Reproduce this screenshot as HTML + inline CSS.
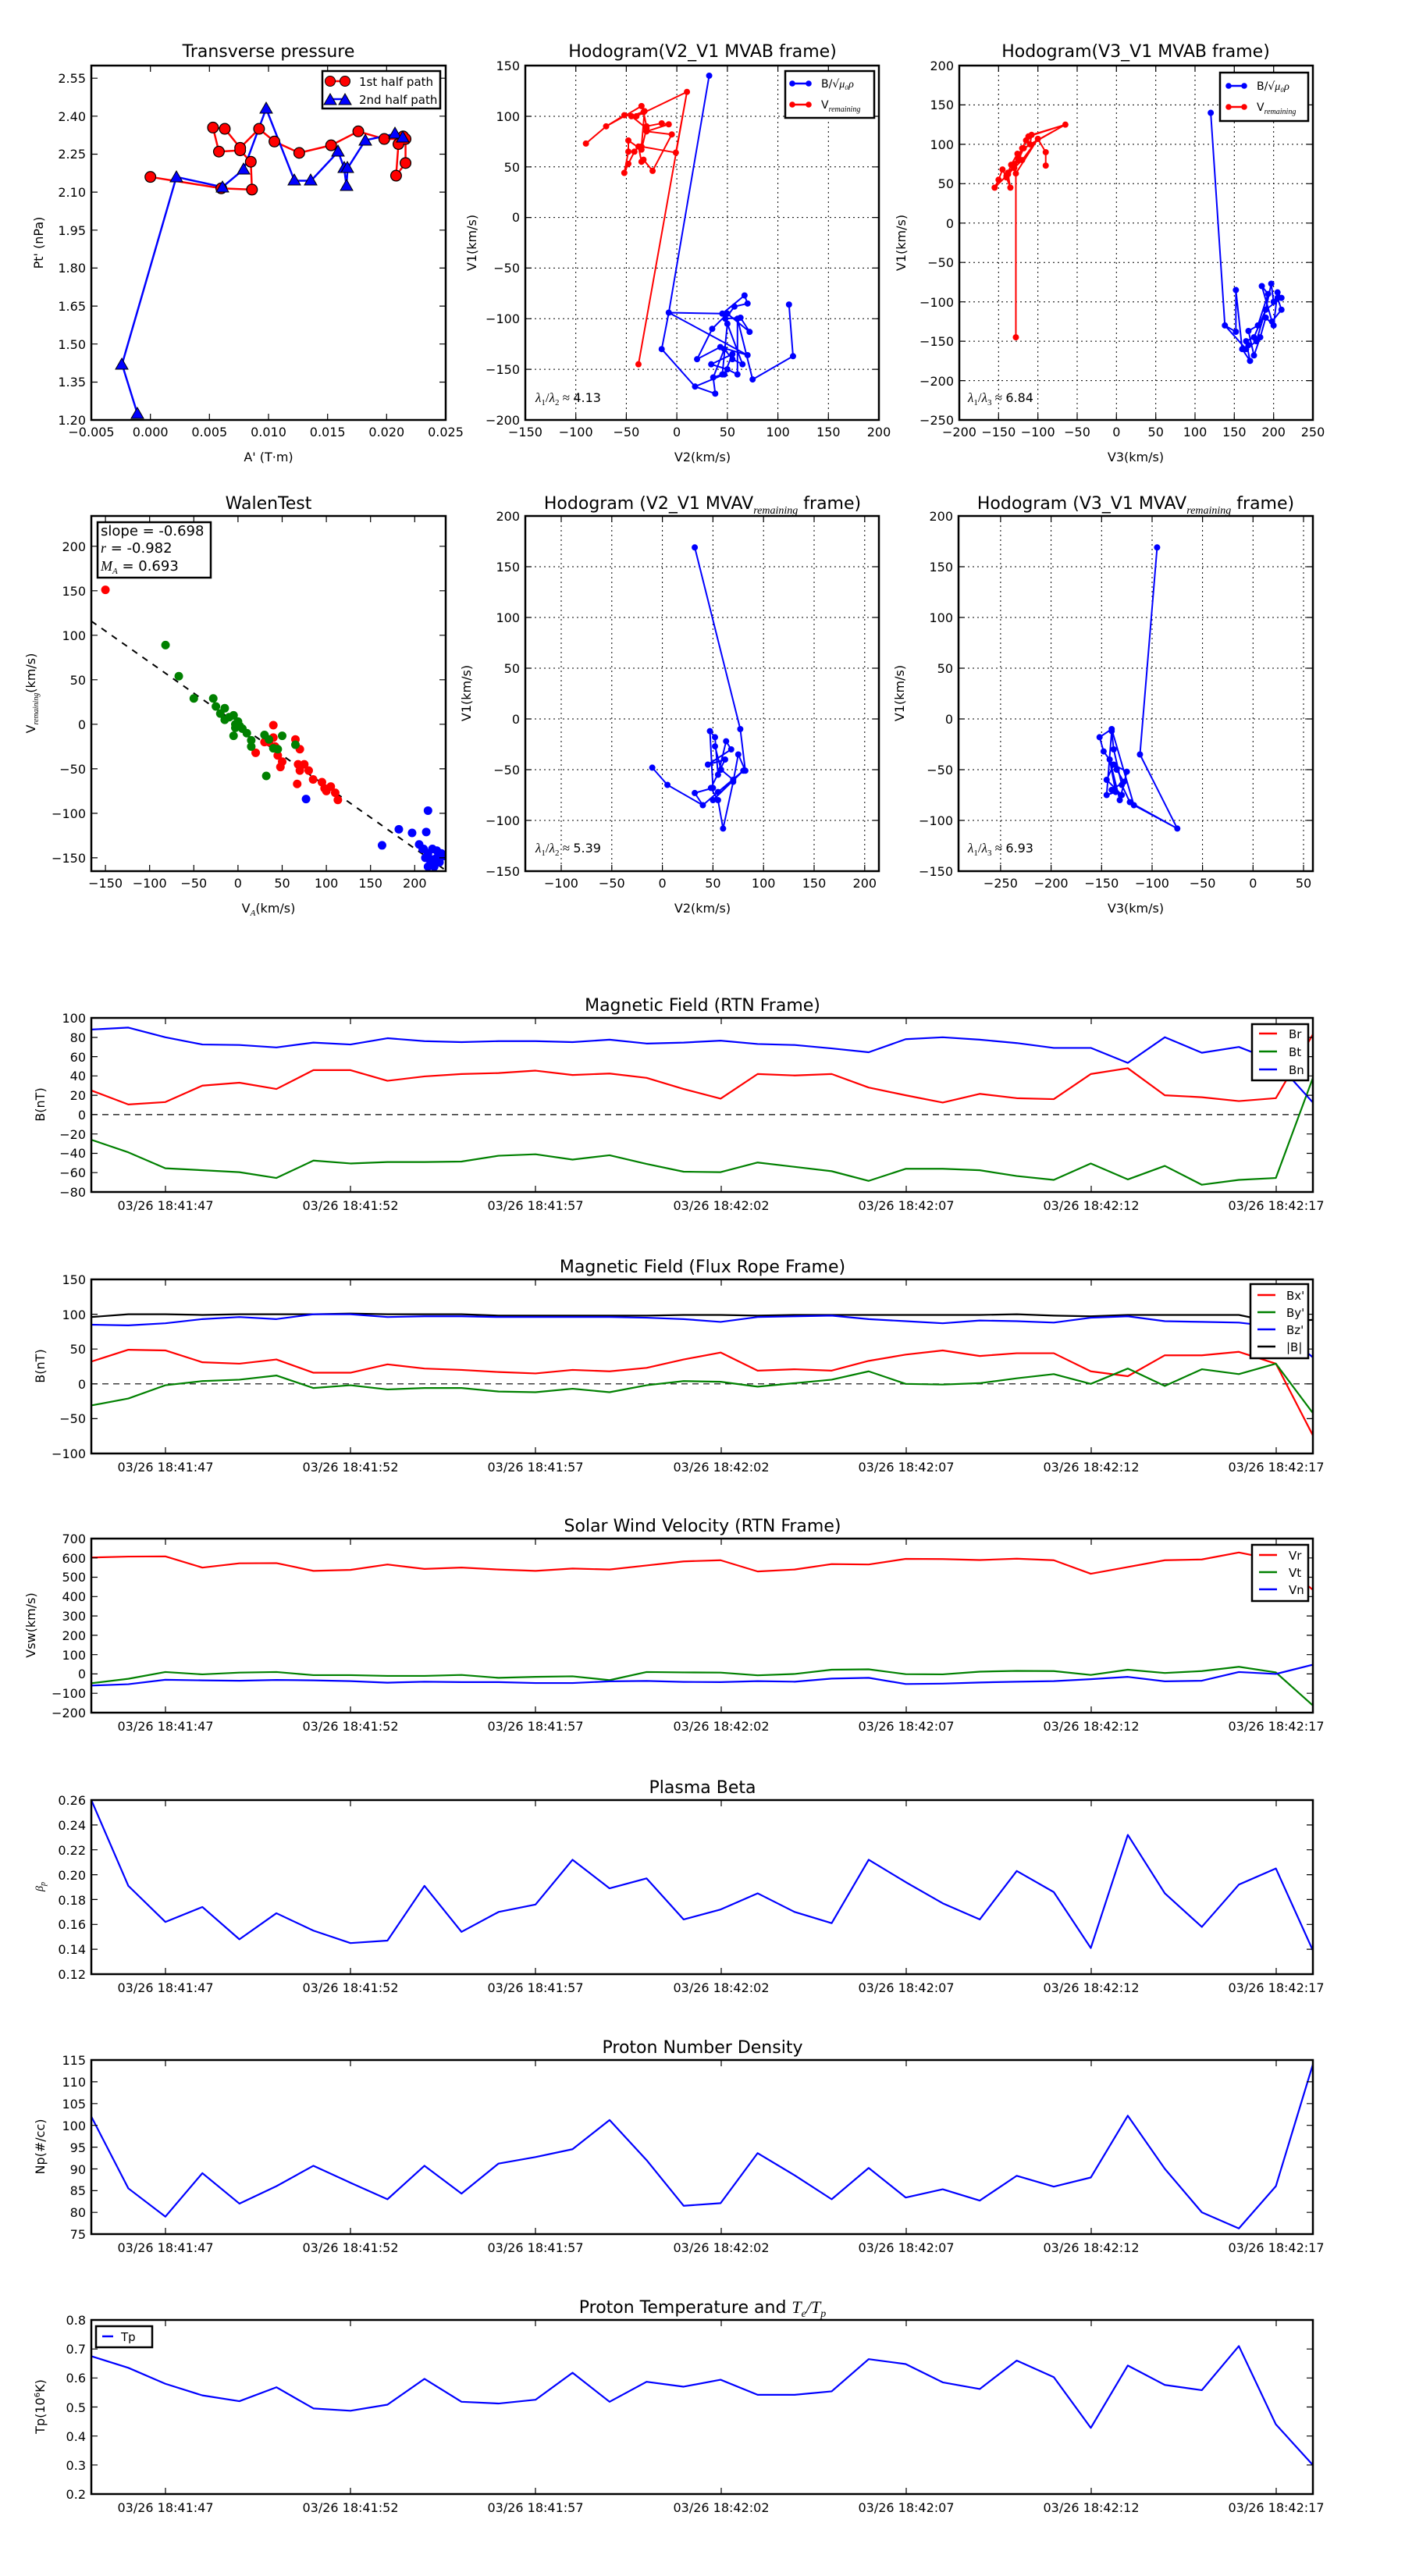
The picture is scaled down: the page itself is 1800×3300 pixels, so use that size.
<!DOCTYPE html>
<html><head><meta charset="utf-8"><style>
html,body{margin:0;padding:0;background:#fff;}
svg{display:block;font-family:"DejaVu Sans","Liberation Sans",sans-serif;}
.t{font-size:16px;}
.tt{font-size:22px;}
.ln{fill:none;vector-effect:non-scaling-stroke;stroke-linejoin:round;}
.fr{fill:none;stroke:#000;stroke-width:2.5;}
.tk{stroke:#000;stroke-width:1.2;fill:none;}
.gd{stroke:#000;stroke-width:1;stroke-dasharray:2,4;fill:none;}
.dot{fill:none;vector-effect:non-scaling-stroke;stroke-linecap:round;}
</style></head><body>
<svg width="1800" height="3300" viewBox="0 0 1800 3300" xmlns="http://www.w3.org/2000/svg">
<rect width="1800" height="3300" fill="#fff"/>
<defs>
<g id="tsx">
<rect x="117" y="0" width="1565" height="223" class="fr"/>
<path class="tk" d="M212 223v-8M449 223v-8M686 223v-8M924 223v-8M1161 223v-8M1398 223v-8M1635 223v-8M212 0v8M449 0v8M686 0v8M924 0v8M1161 0v8M1398 0v8M1635 0v8"/>
<g class="t" text-anchor="middle">
<text x="212" y="246">03/26 18:41:47</text><text x="449" y="246">03/26 18:41:52</text><text x="686" y="246">03/26 18:41:57</text><text x="924" y="246">03/26 18:42:02</text><text x="1161" y="246">03/26 18:42:07</text><text x="1398" y="246">03/26 18:42:12</text><text x="1635" y="246">03/26 18:42:17</text>
</g>
</g>
<path id="tri" d="M0,-8 L8,6 L-8,6 Z" fill="#0000ff" stroke="#000" stroke-width="1"/>
</defs>

<!-- ============ Plot 1: Transverse pressure ============ -->
<text class="tt" x="344" y="73" text-anchor="middle">Transverse pressure</text>
<g transform="matrix(15133.3 0 0 -324.29 192.67 927.14)">
<polyline class="ln" stroke="#ff0000" stroke-width="2.5" points="0,2.16 0.006,2.115 0.0086,2.11 0.0085,2.22 0.0076,2.265 0.0058,2.26 0.0053,2.355 0.0063,2.35 0.0076,2.275 0.0092,2.35 0.0105,2.30 0.0126,2.255 0.0153,2.285 0.0176,2.34 0.0198,2.31 0.0216,2.31 0.0216,2.215 0.0208,2.165 0.021,2.29 0.0214,2.32"/>
<polyline class="ln" stroke="#0000ff" stroke-width="2.5" points="-0.0011,1.225 -0.0024,1.42 0.0022,2.16 0.0061,2.12 0.0079,2.19 0.0098,2.43 0.0122,2.145 0.0136,2.145 0.0159,2.26 0.0164,2.195 0.0166,2.125 0.0167,2.195 0.0182,2.305 0.0207,2.33 0.0214,2.315"/>
<path class="dot" stroke="#000" stroke-width="15" d="M0 2.16h0M0.006 2.115h0M0.0086 2.11h0M0.0085 2.22h0M0.0076 2.265h0M0.0058 2.26h0M0.0053 2.355h0M0.0063 2.35h0M0.0076 2.275h0M0.0092 2.35h0M0.0105 2.30h0M0.0126 2.255h0M0.0153 2.285h0M0.0176 2.34h0M0.0198 2.31h0M0.0216 2.31h0M0.0216 2.215h0M0.0208 2.165h0M0.021 2.29h0M0.0214 2.32h0"/>
<path class="dot" stroke="#ff0000" stroke-width="12.5" d="M0 2.16h0M0.006 2.115h0M0.0086 2.11h0M0.0085 2.22h0M0.0076 2.265h0M0.0058 2.26h0M0.0053 2.355h0M0.0063 2.35h0M0.0076 2.275h0M0.0092 2.35h0M0.0105 2.30h0M0.0126 2.255h0M0.0153 2.285h0M0.0176 2.34h0M0.0198 2.31h0M0.0216 2.31h0M0.0216 2.215h0M0.0208 2.165h0M0.021 2.29h0M0.0214 2.32h0"/>
</g>
<use href="#tri" x="176" y="530"/><use href="#tri" x="156" y="467"/><use href="#tri" x="226" y="227"/><use href="#tri" x="285" y="240"/><use href="#tri" x="312" y="217"/><use href="#tri" x="341" y="139"/><use href="#tri" x="377" y="231"/><use href="#tri" x="398" y="231"/><use href="#tri" x="433" y="194"/><use href="#tri" x="441" y="215"/><use href="#tri" x="444" y="238"/><use href="#tri" x="445" y="215"/><use href="#tri" x="468" y="180"/><use href="#tri" x="506" y="171"/><use href="#tri" x="516" y="176"/>
<rect x="117" y="84" width="454" height="454" class="fr"/>
<path class="tk" d="M192.7 538v-8M268.3 538v-8M344 538v-8M419.7 538v-8M495.3 538v-8M192.7 84v8M268.3 84v8M344 84v8M419.7 84v8M495.3 84v8M117 100.2h8M117 148.8h8M117 197.5h8M117 246.1h8M117 294.8h8M117 343.4h8M117 392.1h8M117 440.7h8M117 489.5h8M571 100.2h-8M571 148.8h-8M571 197.5h-8M571 246.1h-8M571 294.8h-8M571 343.4h-8M571 392.1h-8M571 440.7h-8M571 489.5h-8"/>
<g class="t" text-anchor="end"><text x="110" y="106">2.55</text><text x="110" y="155">2.40</text><text x="110" y="203">2.25</text><text x="110" y="252">2.10</text><text x="110" y="301">1.95</text><text x="110" y="349">1.80</text><text x="110" y="398">1.65</text><text x="110" y="447">1.50</text><text x="110" y="495">1.35</text><text x="110" y="544">1.20</text></g>
<g class="t" text-anchor="middle"><text x="117" y="559">−0.005</text><text x="192.7" y="559">0.000</text><text x="268.3" y="559">0.005</text><text x="344" y="559">0.010</text><text x="419.7" y="559">0.015</text><text x="495.3" y="559">0.020</text><text x="571" y="559">0.025</text></g>
<text class="t" x="344" y="591" text-anchor="middle">A' (T·m)</text>
<text class="t" transform="translate(55,311) rotate(-90)" text-anchor="middle">Pt' (nPa)</text>
<rect x="413" y="91" width="151" height="48" fill="#fff" stroke="#000" stroke-width="2.5"/>
<line x1="423" y1="104" x2="442" y2="104" stroke="#ff0000" stroke-width="2.5"/>
<circle cx="423" cy="104" r="6.5" fill="#ff0000" stroke="#000"/><circle cx="442" cy="104" r="6.5" fill="#ff0000" stroke="#000"/>
<line x1="423" y1="127" x2="442" y2="127" stroke="#0000ff" stroke-width="2.5"/>
<use href="#tri" x="423" y="128"/><use href="#tri" x="442" y="128"/>
<text x="460" y="110" font-size="15">1st half path</text><text x="460" y="133" font-size="15">2nd half path</text>

<!-- ============ Plot 2: Hodogram V2_V1 MVAB ============ -->
<text class="tt" x="900" y="73" text-anchor="middle">Hodogram(V2_V1 MVAB frame)</text>
<path class="gd" d="M737.7 84V538M802.4 84V538M867.1 84V538M931.9 84V538M996.6 84V538M1061.3 84V538M673 149H1126M673 213.8H1126M673 278.6H1126M673 343.4H1126M673 408.3H1126M673 473.1H1126"/>
<g transform="matrix(1.2943 0 0 -1.2971 867.14 278.57)">
<polyline class="ln" stroke="#ff0000" stroke-width="2" points="-38,-145 10,124 -40,100 -52,101 -70,90 -90,73 -70,90 -52,100 -35,110 -33,104 -30,90 -15,93 -8,92 -30,85 -5,82 -24,46 -33,57 -35,55 -38,70 -42,65 -48,53 -52,44 -48,65 -48,76 -35,67 -30,88 -45,100 -32,105 -35,70 -1,64 10,124"/>
<polyline class="ln" stroke="#0000ff" stroke-width="2" points="32,140 -8,-94 45,-95 67,-77 70,-85 57,-88 48,-100 63,-99 72,-113 50,-95 35,-110 20,-140 43,-128 70,-136 -8,-94 -15,-130 18,-167 38,-174 18,-167 47,-155 55,-135 34,-145 50,-150 60,-155 60,-100 75,-160 115,-137 111,-86"/>
<polyline class="ln" stroke="#0000ff" stroke-width="2" points="36,-158 47,-130 55,-140 65,-145 50,-105 45,-155 36,-158 38,-174"/>
<path class="dot" stroke="#ff0000" stroke-width="8" d="M-38 -145h0M10 124h0M-40 100h0M-52 101h0M-70 90h0M-90 73h0M-35 110h0M-33 104h0M-30 90h0M-15 93h0M-8 92h0M-30 85h0M-5 82h0M-24 46h0M-33 57h0M-35 55h0M-38 70h0M-42 65h0M-48 53h0M-52 44h0M-48 65h0M-48 76h0M-35 67h0M-30 88h0M-45 100h0M-32 105h0M-35 70h0M-1 64h0"/>
<path class="dot" stroke="#0000ff" stroke-width="8" d="M32 140h0M-8 -94h0M45 -95h0M67 -77h0M70 -85h0M57 -88h0M48 -100h0M63 -99h0M72 -113h0M50 -95h0M35 -110h0M20 -140h0M43 -128h0M70 -136h0M-15 -130h0M18 -167h0M38 -174h0M47 -155h0M55 -135h0M34 -145h0M50 -150h0M60 -155h0M60 -100h0M75 -160h0M115 -137h0M111 -86h0M36 -158h0M47 -130h0M55 -140h0M65 -145h0M50 -105h0M45 -155h0"/>
</g>
<rect x="673" y="84" width="453" height="454" class="fr"/>
<path class="tk" d="M737.7 538v-8M802.4 538v-8M867.1 538v-8M931.9 538v-8M996.6 538v-8M1061.3 538v-8M737.7 84v8M802.4 84v8M867.1 84v8M931.9 84v8M996.6 84v8M1061.3 84v8M673 149h8M673 213.8h8M673 278.6h8M673 343.4h8M673 408.3h8M673 473.1h8M1126 149h-8M1126 213.8h-8M1126 278.6h-8M1126 343.4h-8M1126 408.3h-8M1126 473.1h-8"/>
<g class="t" text-anchor="end"><text x="666" y="90">150</text><text x="666" y="155">100</text><text x="666" y="220">50</text><text x="666" y="284">0</text><text x="666" y="349">−50</text><text x="666" y="414">−100</text><text x="666" y="479">−150</text><text x="666" y="544">−200</text></g>
<g class="t" text-anchor="middle"><text x="673" y="559">−150</text><text x="737.7" y="559">−100</text><text x="802.4" y="559">−50</text><text x="867.1" y="559">0</text><text x="931.9" y="559">50</text><text x="996.6" y="559">100</text><text x="1061.3" y="559">150</text><text x="1126" y="559">200</text></g>
<text class="t" x="900" y="591" text-anchor="middle">V2(km/s)</text>
<text class="t" transform="translate(610,311) rotate(-90)" text-anchor="middle">V1(km/s)</text>
<text x="686" y="515" font-size="17" font-family="Liberation Serif,serif"><tspan font-style="italic">λ</tspan><tspan font-size="11" dy="4">1</tspan><tspan dy="-4">/</tspan><tspan font-style="italic">λ</tspan><tspan font-size="11" dy="4">2</tspan><tspan dy="-4"> ≈ </tspan><tspan font-family="DejaVu Sans,sans-serif" font-size="16">4.13</tspan></text>
<rect x="1006" y="91" width="114" height="60" fill="#fff" stroke="#000" stroke-width="2.5"/>
<line x1="1015" y1="107" x2="1036" y2="107" stroke="#0000ff" stroke-width="2.5"/><circle cx="1015" cy="107" r="3.8" fill="#0000ff"/><circle cx="1036" cy="107" r="3.8" fill="#0000ff"/>
<line x1="1015" y1="134" x2="1036" y2="134" stroke="#ff0000" stroke-width="2.5"/><circle cx="1015" cy="134" r="3.8" fill="#ff0000"/><circle cx="1036" cy="134" r="3.8" fill="#ff0000"/>
<text x="1052" y="112" font-size="14">B/√<tspan font-style="italic" font-family="Liberation Serif,serif">μ₀ρ</tspan></text>
<text x="1052" y="139" font-size="14">V<tspan font-size="10" dy="4" font-style="italic" font-family="Liberation Serif,serif">remaining</tspan></text>

<!-- ============ Plot 3: Hodogram V3_V1 MVAB ============ -->
<text class="tt" x="1455" y="73" text-anchor="middle">Hodogram(V3_V1 MVAB frame)</text>
<path class="gd" d="M1279.3 84V538M1329.7 84V538M1380 84V538M1430.3 84V538M1480.7 84V538M1531 84V538M1581.3 84V538M1631.7 84V538M1229 134.4H1682M1229 184.9H1682M1229 235.3H1682M1229 285.8H1682M1229 336.2H1682M1229 386.7H1682M1229 437.1H1682M1229 487.6H1682"/>
<g transform="matrix(1.00667 0 0 -1.00889 1430.33 285.78)">
<polyline class="ln" stroke="#ff0000" stroke-width="2" points="-128,-145 -128,63 -100,107 -90,90 -90,73 -90,90 -100,107 -120,80 -140,60 -155,45 -150,55 -145,68 -140,58 -135,45 -138,62 -130,75 -125,85 -120,95 -115,105 -112,110 -65,125 -118,95 -125,80 -130,70 -138,64 -134,74 -126,88 -110,100 -108,112 -65,125 -110,100"/>
<polyline class="ln" stroke="#0000ff" stroke-width="2" points="120,140 138,-130 152,-138 152,-85 160,-160 170,-175 165,-150 175,-145 190,-110 197,-77 200,-100 205,-95 210,-110 198,-125 185,-80 193,-90 180,-130 168,-137 175,-168 183,-145 190,-120 200,-130 205,-88 210,-95 190,-110 178,-150 165,-160 138,-130"/>
<path class="dot" stroke="#ff0000" stroke-width="8" d="M-128 -145h0M-128 63h0M-100 107h0M-90 90h0M-90 73h0M-120 80h0M-140 60h0M-155 45h0M-150 55h0M-145 68h0M-140 58h0M-135 45h0M-138 62h0M-130 75h0M-125 85h0M-120 95h0M-115 105h0M-112 110h0M-65 125h0M-118 95h0M-125 80h0M-130 70h0M-138 64h0M-134 74h0M-126 88h0M-110 100h0M-108 112h0"/>
<path class="dot" stroke="#0000ff" stroke-width="8" d="M120 140h0M138 -130h0M152 -138h0M152 -85h0M160 -160h0M170 -175h0M165 -150h0M175 -145h0M190 -110h0M197 -77h0M200 -100h0M205 -95h0M210 -110h0M198 -125h0M185 -80h0M193 -90h0M180 -130h0M168 -137h0M175 -168h0M183 -145h0M190 -120h0M200 -130h0M205 -88h0M210 -95h0M178 -150h0M165 -160h0M168 -155h0"/>
</g>
<rect x="1229" y="84" width="453" height="454" class="fr"/>
<path class="tk" d="M1279.3 538v-8M1329.7 538v-8M1380 538v-8M1430.3 538v-8M1480.7 538v-8M1531 538v-8M1581.3 538v-8M1631.7 538v-8M1279.3 84v8M1329.7 84v8M1380 84v8M1430.3 84v8M1480.7 84v8M1531 84v8M1581.3 84v8M1631.7 84v8M1229 134.4h8M1229 184.9h8M1229 235.3h8M1229 285.8h8M1229 336.2h8M1229 386.7h8M1229 437.1h8M1229 487.6h8M1682 134.4h-8M1682 184.9h-8M1682 235.3h-8M1682 285.8h-8M1682 336.2h-8M1682 386.7h-8M1682 437.1h-8M1682 487.6h-8"/>
<g class="t" text-anchor="end"><text x="1222" y="90">200</text><text x="1222" y="140">150</text><text x="1222" y="191">100</text><text x="1222" y="241">50</text><text x="1222" y="292">0</text><text x="1222" y="342">−50</text><text x="1222" y="393">−100</text><text x="1222" y="443">−150</text><text x="1222" y="494">−200</text><text x="1222" y="544">−250</text></g>
<g class="t" text-anchor="middle"><text x="1229" y="559">−200</text><text x="1279.3" y="559">−150</text><text x="1329.7" y="559">−100</text><text x="1380" y="559">−50</text><text x="1430.3" y="559">0</text><text x="1480.7" y="559">50</text><text x="1531" y="559">100</text><text x="1581.3" y="559">150</text><text x="1631.7" y="559">200</text><text x="1682" y="559">250</text></g>
<text class="t" x="1455" y="591" text-anchor="middle">V3(km/s)</text>
<text class="t" transform="translate(1160,311) rotate(-90)" text-anchor="middle">V1(km/s)</text>
<text x="1240" y="515" font-size="17" font-family="Liberation Serif,serif"><tspan font-style="italic">λ</tspan><tspan font-size="11" dy="4">1</tspan><tspan dy="-4">/</tspan><tspan font-style="italic">λ</tspan><tspan font-size="11" dy="4">3</tspan><tspan dy="-4"> ≈ </tspan><tspan font-family="DejaVu Sans,sans-serif" font-size="16">6.84</tspan></text>
<rect x="1563" y="93" width="113" height="62" fill="#fff" stroke="#000" stroke-width="2.5"/>
<line x1="1574" y1="110" x2="1594" y2="110" stroke="#0000ff" stroke-width="2.5"/><circle cx="1574" cy="110" r="3.8" fill="#0000ff"/><circle cx="1594" cy="110" r="3.8" fill="#0000ff"/>
<line x1="1574" y1="137" x2="1594" y2="137" stroke="#ff0000" stroke-width="2.5"/><circle cx="1574" cy="137" r="3.8" fill="#ff0000"/><circle cx="1594" cy="137" r="3.8" fill="#ff0000"/>
<text x="1610" y="115" font-size="14">B/√<tspan font-style="italic" font-family="Liberation Serif,serif">μ₀ρ</tspan></text>
<text x="1610" y="142" font-size="14">V<tspan font-size="10" dy="4" font-style="italic" font-family="Liberation Serif,serif">remaining</tspan></text>

<!-- ============ Plot 4: Walen ============ -->
<text class="tt" x="344" y="652" text-anchor="middle">WalenTest</text>
<g transform="matrix(1.1322 0 0 -1.1404 304.9 927.83)">
<line class="ln" x1="-166" y1="115.9" x2="235" y2="-164" stroke="#000" stroke-width="2" stroke-dasharray="8,8"/>
<path class="dot" stroke="#ff0000" stroke-width="11" d="M-150 151h0M40 -1h0M35 -20h0M40 -15h0M20 -32h0M45 -35h0M48 -48h0M50 -42h0M65 -17h0M70 -28h0M68 -45h0M70 -52h0M75 -45h0M80 -52h0M67 -67h0M85 -62h0M95 -65h0M98 -72h0M100 -75h0M105 -70h0M110 -77h0M113 -85h0M30 -20h0M42 -25h0"/>
<path class="dot" stroke="#008000" stroke-width="11" d="M-82 89h0M-67 54h0M-50 29h0M-28 29h0M-25 20h0M-15 18h0M-15 5h0M-10 8h0M-5 10h0M-3 0h0M0 3h0M5 -5h0M10 -10h0M15 -18h0M30 -12h0M35 -17h0M45 -28h0M50 -13h0M65 -23h0M32 -58h0M15 -25h0M-5 -13h0M-3 -4h0M-20 12h0M2 -2h0M40 -27h0"/>
<path class="dot" stroke="#0000ff" stroke-width="11" d="M77 -84h0M163 -136h0M182 -118h0M197 -122h0M213 -121h0M215 -97h0M205 -135h0M210 -140h0M212 -150h0M215 -145h0M220 -140h0M225 -150h0M230 -145h0M218 -155h0M222 -160h0M228 -155h0M233 -148h0M215 -160h0M209 -140h0M225 -142h0M220 -152h0"/>
</g>
<rect x="571" y="640" width="40" height="500" fill="#fff"/>
<rect x="117" y="661" width="454" height="455" class="fr"/>
<path class="tk" d="M135.1 1116v-8M191.7 1116v-8M248.3 1116v-8M304.9 1116v-8M361.5 1116v-8M418.1 1116v-8M474.7 1116v-8M531.3 1116v-8M135.1 661v8M191.7 661v8M248.3 661v8M304.9 661v8M361.5 661v8M418.1 661v8M474.7 661v8M531.3 661v8M117 699.8h8M117 756.8h8M117 813.8h8M117 870.8h8M117 927.8h8M117 984.9h8M117 1041.9h8M117 1098.9h8M571 699.8h-8M571 756.8h-8M571 813.8h-8M571 870.8h-8M571 927.8h-8M571 984.9h-8M571 1041.9h-8M571 1098.9h-8"/>
<g class="t" text-anchor="end"><text x="110" y="706">200</text><text x="110" y="763">150</text><text x="110" y="820">100</text><text x="110" y="877">50</text><text x="110" y="934">0</text><text x="110" y="991">−50</text><text x="110" y="1048">−100</text><text x="110" y="1105">−150</text></g>
<g class="t" text-anchor="middle"><text x="135.1" y="1137">−150</text><text x="191.7" y="1137">−100</text><text x="248.3" y="1137">−50</text><text x="304.9" y="1137">0</text><text x="361.5" y="1137">50</text><text x="418.1" y="1137">100</text><text x="474.7" y="1137">150</text><text x="531.3" y="1137">200</text></g>
<text class="t" x="344" y="1169" text-anchor="middle">V<tspan font-size="11" dy="4" font-style="italic" font-family="Liberation Serif,serif">A</tspan><tspan dy="-4">(km/s)</tspan></text>
<text class="t" transform="translate(45,888) rotate(-90)" text-anchor="middle">V<tspan font-size="10" dy="4" font-style="italic" font-family="Liberation Serif,serif">remaining</tspan><tspan dy="-4">(km/s)</tspan></text>
<rect x="125" y="669" width="145" height="71" fill="#fff" stroke="#000" stroke-width="2.5"/>
<text x="129" y="686" font-size="18">slope = -0.698</text>
<text x="129" y="708" font-size="18"><tspan font-style="italic" font-family="Liberation Serif,serif">r</tspan> = -0.982</text>
<text x="129" y="731" font-size="18"><tspan font-style="italic" font-family="Liberation Serif,serif">M</tspan><tspan font-size="11" dy="4" font-style="italic" font-family="Liberation Serif,serif">A</tspan><tspan dy="-4"> = 0.693</tspan></text>

<!-- ============ Plot 5 ============ -->
<text class="tt" x="900" y="652" text-anchor="middle">Hodogram (V2_V1 MVAV<tspan font-size="14" dy="6" font-style="italic" font-family="Liberation Serif,serif">remaining</tspan><tspan dy="-6"> frame)</tspan></text>
<path class="gd" d="M719 661V1116M783.8 661V1116M848.6 661V1116M913.4 661V1116M978.2 661V1116M1043 661V1116M1107.8 661V1116M673 726H1126M673 791H1126M673 856H1126M673 921H1126M673 986H1126M673 1051H1126"/>
<g transform="matrix(1.2961 0 0 -1.3 848.6 921)">
<polyline class="ln" stroke="#0000ff" stroke-width="2" points="32,169 77,-10 82,-51 75,-35 70,-62 60,-108 55,-80 48,-68 62,-40 45,-45 68,-30 63,-22 55,-55 52,-18 47,-12 50,-68 32,-73 40,-85 5,-65 -10,-48 5,-65 40,-85 55,-72 80,-51 50,-80 70,-60 58,-50 52,-27"/>
<path class="dot" stroke="#0000ff" stroke-width="8" d="M32 169h0M77 -10h0M82 -51h0M75 -35h0M70 -62h0M60 -108h0M55 -80h0M48 -68h0M62 -40h0M45 -45h0M68 -30h0M63 -22h0M55 -55h0M52 -18h0M47 -12h0M50 -68h0M32 -73h0M40 -85h0M5 -65h0M-10 -48h0M55 -72h0M80 -51h0M50 -80h0M70 -60h0M58 -50h0M52 -27h0"/>
</g>
<rect x="673" y="661" width="453" height="455" class="fr"/>
<path class="tk" d="M719 1116v-8M783.8 1116v-8M848.6 1116v-8M913.4 1116v-8M978.2 1116v-8M1043 1116v-8M1107.8 1116v-8M719 661v8M783.8 661v8M848.6 661v8M913.4 661v8M978.2 661v8M1043 661v8M1107.8 661v8M673 726h8M673 791h8M673 856h8M673 921h8M673 986h8M673 1051h8M1126 726h-8M1126 791h-8M1126 856h-8M1126 921h-8M1126 986h-8M1126 1051h-8"/>
<g class="t" text-anchor="end"><text x="666" y="667">200</text><text x="666" y="732">150</text><text x="666" y="797">100</text><text x="666" y="862">50</text><text x="666" y="927">0</text><text x="666" y="992">−50</text><text x="666" y="1057">−100</text><text x="666" y="1122">−150</text></g>
<g class="t" text-anchor="middle"><text x="719" y="1137">−100</text><text x="783.8" y="1137">−50</text><text x="848.6" y="1137">0</text><text x="913.4" y="1137">50</text><text x="978.2" y="1137">100</text><text x="1043" y="1137">150</text><text x="1107.8" y="1137">200</text></g>
<text class="t" x="900" y="1169" text-anchor="middle">V2(km/s)</text>
<text class="t" transform="translate(603,888) rotate(-90)" text-anchor="middle">V1(km/s)</text>
<text x="686" y="1092" font-size="17" font-family="Liberation Serif,serif"><tspan font-style="italic">λ</tspan><tspan font-size="11" dy="4">1</tspan><tspan dy="-4">/</tspan><tspan font-style="italic">λ</tspan><tspan font-size="11" dy="4">2</tspan><tspan dy="-4"> ≈ </tspan><tspan font-family="DejaVu Sans,sans-serif" font-size="16">5.39</tspan></text>

<!-- ============ Plot 6 ============ -->
<text class="tt" x="1455" y="652" text-anchor="middle">Hodogram (V3_V1 MVAV<tspan font-size="14" dy="6" font-style="italic" font-family="Liberation Serif,serif">remaining</tspan><tspan dy="-6"> frame)</tspan></text>
<path class="gd" d="M1281.9 661V1116M1346.6 661V1116M1411.3 661V1116M1476 661V1116M1540.6 661V1116M1605.3 661V1116M1670 661V1116M1228 726H1682M1228 791H1682M1228 856H1682M1228 921H1682M1228 986H1682M1228 1051H1682"/>
<g transform="matrix(1.2934 0 0 -1.3 1605.3 921)">
<polyline class="ln" stroke="#0000ff" stroke-width="2" points="-95,169 -112,-35 -75,-108 -118,-85 -140,-10 -152,-18 -148,-32 -135,-50 -128,-62 -140,-70 -130,-75 -145,-60 -138,-45 -125,-52 -132,-80 -142,-40 -136,-72 -145,-75 -140,-12 -138,-30 -130,-65 -122,-82 -75,-108"/>
<path class="dot" stroke="#0000ff" stroke-width="8" d="M-95 169h0M-112 -35h0M-75 -108h0M-118 -85h0M-140 -10h0M-152 -18h0M-148 -32h0M-135 -50h0M-128 -62h0M-140 -70h0M-130 -75h0M-145 -60h0M-138 -45h0M-125 -52h0M-132 -80h0M-142 -40h0M-136 -72h0M-145 -75h0M-140 -12h0M-138 -30h0M-130 -65h0M-122 -82h0"/>
</g>
<rect x="1228" y="661" width="454" height="455" class="fr"/>
<path class="tk" d="M1281.9 1116v-8M1346.6 1116v-8M1411.3 1116v-8M1476 1116v-8M1540.6 1116v-8M1605.3 1116v-8M1670 1116v-8M1281.9 661v8M1346.6 661v8M1411.3 661v8M1476 661v8M1540.6 661v8M1605.3 661v8M1670 661v8M1228 726h8M1228 791h8M1228 856h8M1228 921h8M1228 986h8M1228 1051h8M1682 726h-8M1682 791h-8M1682 856h-8M1682 921h-8M1682 986h-8M1682 1051h-8"/>
<g class="t" text-anchor="end"><text x="1221" y="667">200</text><text x="1221" y="732">150</text><text x="1221" y="797">100</text><text x="1221" y="862">50</text><text x="1221" y="927">0</text><text x="1221" y="992">−50</text><text x="1221" y="1057">−100</text><text x="1221" y="1122">−150</text></g>
<g class="t" text-anchor="middle"><text x="1281.9" y="1137">−250</text><text x="1346.6" y="1137">−200</text><text x="1411.3" y="1137">−150</text><text x="1476" y="1137">−100</text><text x="1540.6" y="1137">−50</text><text x="1605.3" y="1137">0</text><text x="1670" y="1137">50</text></g>
<text class="t" x="1455" y="1169" text-anchor="middle">V3(km/s)</text>
<text class="t" transform="translate(1158,888) rotate(-90)" text-anchor="middle">V1(km/s)</text>
<text x="1240" y="1092" font-size="17" font-family="Liberation Serif,serif"><tspan font-style="italic">λ</tspan><tspan font-size="11" dy="4">1</tspan><tspan dy="-4">/</tspan><tspan font-style="italic">λ</tspan><tspan font-size="11" dy="4">3</tspan><tspan dy="-4"> ≈ </tspan><tspan font-family="DejaVu Sans,sans-serif" font-size="16">6.93</tspan></text>

<!-- ============ Time series ============ -->
<text class="tt" x="900" y="1295" text-anchor="middle">Magnetic Field (RTN Frame)</text>
<line x1="117" y1="1427.9" x2="1682" y2="1427.9" stroke="#000" stroke-width="1.2" stroke-dasharray="8,6"/>
<g transform="matrix(47.424 0 0 -1.2389 117 1427.9)">
<polyline class="ln" stroke="#ff0000" stroke-width="2.2" points="0,25 1,10.5 2,13 3,30 4,33 5,26.5 6,46 7,46 8,35 9,39.5 10,42 11,43 12,45.5 13,41 14,42.5 15,38 16,26.5 17,16.5 18,42 19,40.5 20,42 21,28 22,20 23,12.5 24,21.5 25,17 26,16 27,42 28,48 29,20 30,18 31,14 32,17 33,83"/>
<polyline class="ln" stroke="#008000" stroke-width="2.2" points="0,-26 1,-39 2,-55.5 3,-57.5 4,-59.5 5,-65.5 6,-47.5 7,-50.5 8,-49 9,-49 10,-48.5 11,-42.5 12,-41 13,-46.5 14,-42 15,-51 16,-59 17,-59.5 18,-49.5 19,-54 20,-58.5 21,-68.5 22,-56 23,-56 24,-57.5 25,-63.5 26,-67.5 27,-50.5 28,-67 29,-53 30,-72.5 31,-67.5 32,-65.5 33,38"/>
<polyline class="ln" stroke="#0000ff" stroke-width="2.2" points="0,88 1,90 2,80 3,72.5 4,72 5,69.5 6,74.5 7,72.5 8,79 9,76 10,75 11,76 12,76 13,75 14,77.5 15,73.5 16,74.5 17,76.5 18,73 19,72 20,68.5 21,64.5 22,78 23,80 24,77.5 25,74 26,69 27,69 28,53.5 29,80 30,64 31,70 32,55 33,12.5"/>
</g>
<use href="#tsx" y="1304"/>
<path class="tk" d="M117 1329h8M117 1353.6h8M117 1378.3h8M117 1403.1h8M117 1427.9h8M117 1452.7h8M117 1477.5h8M117 1502.2h8M1682 1329h-8M1682 1353.6h-8M1682 1378.3h-8M1682 1403.1h-8M1682 1427.9h-8M1682 1452.7h-8M1682 1477.5h-8M1682 1502.2h-8"/>
<g class="t" text-anchor="end"><text x="110" y="1310">100</text><text x="110" y="1335">80</text><text x="110" y="1360">60</text><text x="110" y="1384">40</text><text x="110" y="1409">20</text><text x="110" y="1434">0</text><text x="110" y="1459">−20</text><text x="110" y="1483">−40</text><text x="110" y="1508">−60</text><text x="110" y="1533">−80</text></g>
<text class="t" transform="translate(57,1415) rotate(-90)" text-anchor="middle">B(nT)</text>
<rect x="1604" y="1312" width="72" height="72" fill="#fff" stroke="#000" stroke-width="2.5"/>
<path d="M1613 1324h23" stroke="#ff0000" stroke-width="2.5"/><path d="M1613 1347h23" stroke="#008000" stroke-width="2.5"/><path d="M1613 1370h23" stroke="#0000ff" stroke-width="2.5"/>
<g font-size="15"><text x="1651" y="1330">Br</text><text x="1651" y="1353">Bt</text><text x="1651" y="1376">Bn</text></g>

<text class="tt" x="900" y="1630" text-anchor="middle">Magnetic Field (Flux Rope Frame)</text>
<line x1="117" y1="1772.8" x2="1682" y2="1772.8" stroke="#000" stroke-width="1.2" stroke-dasharray="8,6"/>
<g transform="matrix(47.424 0 0 -0.892 117 1772.8)">
<polyline class="ln" stroke="#000" stroke-width="2.2" points="0,96 1,100 2,100 3,99 4,100 5,100 6,100 7,101 8,100 9,100 10,100 11,98 12,98 13,98 14,98 15,98 16,99 17,99 18,98 19,99 20,99 21,99 22,99 23,99 24,99 25,100 26,98 27,97 28,99 29,99 30,99 31,99 32,88 33,92"/>
<polyline class="ln" stroke="#0000ff" stroke-width="2.2" points="0,85 1,84 2,87 3,93 4,96 5,93 6,100 7,100 8,96 9,97 10,97 11,96 12,96 13,96 14,96 15,95 16,93 17,89 18,96 19,97 20,98 21,93 22,90 23,87 24,91 25,90 26,88 27,95 28,97 29,90 30,89 31,88 32,82 33,38"/>
<polyline class="ln" stroke="#ff0000" stroke-width="2.2" points="0,32 1,49 2,48 3,31 4,29 5,35 6,16 7,16 8,28 9,22 10,20 11,17 12,15 13,20 14,18 15,23 16,35 17,45 18,19 19,21 20,19 21,33 22,42 23,48 24,40 25,44 26,44 27,18 28,11 29,41 30,41 31,46 32,29 33,-74"/>
<polyline class="ln" stroke="#008000" stroke-width="2.2" points="0,-31 1,-21 2,-2 3,4 4,6 5,12 6,-6 7,-2 8,-8 9,-6 10,-6 11,-11 12,-12 13,-7 14,-12 15,-2 16,4 17,3 18,-4 19,1 20,6 21,18 22,0 23,-1 24,1 25,8 26,14 27,0 28,22 29,-3 30,21 31,14 32,29 33,-42"/>
</g>
<use href="#tsx" y="1639"/>
<path class="tk" d="M117 1683.6h8M117 1728.2h8M117 1772.8h8M117 1817.4h8M1682 1683.6h-8M1682 1728.2h-8M1682 1772.8h-8M1682 1817.4h-8"/>
<g class="t" text-anchor="end"><text x="110" y="1645">150</text><text x="110" y="1690">100</text><text x="110" y="1734">50</text><text x="110" y="1779">0</text><text x="110" y="1823">−50</text><text x="110" y="1868">−100</text></g>
<text class="t" transform="translate(57,1750) rotate(-90)" text-anchor="middle">B(nT)</text>
<rect x="1602" y="1645" width="74" height="95" fill="#fff" stroke="#000" stroke-width="2.5"/>
<path d="M1611 1659h23" stroke="#ff0000" stroke-width="2.5"/><path d="M1611 1681h23" stroke="#008000" stroke-width="2.5"/><path d="M1611 1703h23" stroke="#0000ff" stroke-width="2.5"/><path d="M1611 1725h23" stroke="#000" stroke-width="2.5"/>
<g font-size="15"><text x="1648" y="1665">Bx'</text><text x="1648" y="1687">By'</text><text x="1648" y="1709">Bz'</text><text x="1648" y="1731">|B|</text></g>

<text class="tt" x="900" y="1962" text-anchor="middle">Solar Wind Velocity (RTN Frame)</text>
<g transform="matrix(47.424 0 0 -0.24778 117 2144.44)">
<polyline class="ln" stroke="#ff0000" stroke-width="2.2" points="0,602 1,607 2,608 3,550 4,572 5,573 6,533 7,538 8,566 9,543 10,550 11,540 12,533 13,545 14,540 15,561 16,582 17,588 18,530 19,540 20,568 21,566 22,595 23,594 24,589 25,596 26,588 27,518 28,553 29,588 30,592 31,628 32,590 33,435"/>
<polyline class="ln" stroke="#008000" stroke-width="2.2" points="0,-48 1,-25 2,10 3,-2 4,7 5,10 6,-6 7,-6 8,-10 9,-10 10,-5 11,-20 12,-15 13,-12 14,-32 15,10 16,8 17,7 18,-7 19,0 20,22 21,24 22,-1 23,-2 24,12 25,16 26,15 27,-5 28,22 29,5 30,15 31,37 32,8 33,-163"/>
<polyline class="ln" stroke="#0000ff" stroke-width="2.2" points="0,-60 1,-53 2,-30 3,-33 4,-35 5,-31 6,-33 7,-37 8,-45 9,-40 10,-42 11,-42 12,-47 13,-47 14,-38 15,-36 16,-41 17,-42 18,-37 19,-40 20,-24 21,-20 22,-52 23,-50 24,-44 25,-40 26,-37 27,-27 28,-15 29,-38 30,-35 31,10 32,0 33,48"/>
</g>
<use href="#tsx" y="1971"/>
<path class="tk" d="M117 1995.8h8M117 2020.5h8M117 2045.3h8M117 2070.1h8M117 2094.9h8M117 2119.7h8M117 2144.4h8M117 2169.2h8M1682 1995.8h-8M1682 2020.5h-8M1682 2045.3h-8M1682 2070.1h-8M1682 2094.9h-8M1682 2119.7h-8M1682 2144.4h-8M1682 2169.2h-8"/>
<g class="t" text-anchor="end"><text x="110" y="1977">700</text><text x="110" y="2002">600</text><text x="110" y="2026">500</text><text x="110" y="2051">400</text><text x="110" y="2076">300</text><text x="110" y="2101">200</text><text x="110" y="2126">100</text><text x="110" y="2150">0</text><text x="110" y="2175">−100</text><text x="110" y="2200">−200</text></g>
<text class="t" transform="translate(45,2082) rotate(-90)" text-anchor="middle">Vsw(km/s)</text>
<rect x="1604" y="1979" width="72" height="72" fill="#fff" stroke="#000" stroke-width="2.5"/>
<path d="M1613 1992h23" stroke="#ff0000" stroke-width="2.5"/><path d="M1613 2014h23" stroke="#008000" stroke-width="2.5"/><path d="M1613 2036h23" stroke="#0000ff" stroke-width="2.5"/>
<g font-size="15"><text x="1651" y="1998">Vr</text><text x="1651" y="2020">Vt</text><text x="1651" y="2042">Vn</text></g>

<text class="tt" x="900" y="2297" text-anchor="middle">Plasma Beta</text>
<g transform="matrix(47.424 0 0 -1592.9 117 2720.14)">
<polyline class="ln" stroke="#0000ff" stroke-width="2.2" points="0,0.26 1,0.191 2,0.162 3,0.174 4,0.148 5,0.169 6,0.155 7,0.145 8,0.147 9,0.191 10,0.154 11,0.170 12,0.176 13,0.212 14,0.189 15,0.197 16,0.164 17,0.172 18,0.185 19,0.170 20,0.161 21,0.212 22,0.194 23,0.177 24,0.164 25,0.203 26,0.186 27,0.141 28,0.232 29,0.185 30,0.158 31,0.192 32,0.205 33,0.139"/>
</g>
<use href="#tsx" y="2306"/>
<path class="tk" d="M117 2337.9h8M117 2369.7h8M117 2401.6h8M117 2433.4h8M117 2465.3h8M117 2497.1h8M1682 2337.9h-8M1682 2369.7h-8M1682 2401.6h-8M1682 2433.4h-8M1682 2465.3h-8M1682 2497.1h-8"/>
<g class="t" text-anchor="end"><text x="110" y="2312">0.26</text><text x="110" y="2344">0.24</text><text x="110" y="2376">0.22</text><text x="110" y="2408">0.20</text><text x="110" y="2440">0.18</text><text x="110" y="2471">0.16</text><text x="110" y="2503">0.14</text><text x="110" y="2535">0.12</text></g>
<text transform="translate(55,2417) rotate(-90)" text-anchor="middle" font-size="14" font-style="italic" font-family="Liberation Serif,serif">β<tspan font-size="10" dy="3">p</tspan></text>

<text class="tt" x="900" y="2630" text-anchor="middle">Proton Number Density</text>
<g transform="matrix(47.424 0 0 -5.575 117 3280.1)">
<polyline class="ln" stroke="#0000ff" stroke-width="2.2" points="0,102 1,85.5 2,79 3,89 4,82 5,86 6,90.7 7,86.8 8,83 9,90.7 10,84.3 11,91.2 12,92.7 13,94.5 14,101.2 15,92 16,81.5 17,82.1 18,93.6 19,88.5 20,83 21,90.2 22,83.4 23,85.3 24,82.7 25,88.4 26,85.9 27,88 28,102.2 29,90 30,80 31,76.3 32,86 33,114"/>
</g>
<use href="#tsx" y="2639"/>
<path class="tk" d="M117 2666.9h8M117 2694.8h8M117 2722.7h8M117 2750.6h8M117 2778.5h8M117 2806.4h8M117 2834.2h8M1682 2666.9h-8M1682 2694.8h-8M1682 2722.7h-8M1682 2750.6h-8M1682 2778.5h-8M1682 2806.4h-8M1682 2834.2h-8"/>
<g class="t" text-anchor="end"><text x="110" y="2645">115</text><text x="110" y="2673">110</text><text x="110" y="2701">105</text><text x="110" y="2729">100</text><text x="110" y="2757">95</text><text x="110" y="2785">90</text><text x="110" y="2812">85</text><text x="110" y="2840">80</text><text x="110" y="2868">75</text></g>
<text class="t" transform="translate(57,2750) rotate(-90)" text-anchor="middle">Np(#/cc)</text>

<text class="tt" x="900" y="2963" text-anchor="middle">Proton Temperature and <tspan font-style="italic" font-family="Liberation Serif,serif">T<tspan font-size="14" dy="5">e</tspan><tspan dy="-5">/T</tspan><tspan font-size="14" dy="5">p</tspan></tspan></text>
<g transform="matrix(47.424 0 0 -371.67 117 3269.33)">
<polyline class="ln" stroke="#0000ff" stroke-width="2.2" points="0,0.675 1,0.635 2,0.58 3,0.54 4,0.52 5,0.568 6,0.495 7,0.487 8,0.508 9,0.597 10,0.518 11,0.512 12,0.525 13,0.618 14,0.518 15,0.587 16,0.57 17,0.594 18,0.542 19,0.542 20,0.554 21,0.665 22,0.648 23,0.585 24,0.562 25,0.66 26,0.603 27,0.428 28,0.643 29,0.576 30,0.558 31,0.71 32,0.44 33,0.3"/>
</g>
<use href="#tsx" y="2972"/>
<path class="tk" d="M117 3009.2h8M117 3046.3h8M117 3083.5h8M117 3120.7h8M117 3157.8h8M1682 3009.2h-8M1682 3046.3h-8M1682 3083.5h-8M1682 3120.7h-8M1682 3157.8h-8"/>
<g class="t" text-anchor="end"><text x="110" y="2978">0.8</text><text x="110" y="3015">0.7</text><text x="110" y="3052">0.6</text><text x="110" y="3090">0.5</text><text x="110" y="3127">0.4</text><text x="110" y="3164">0.3</text><text x="110" y="3201">0.2</text></g>
<text class="t" transform="translate(57,3083) rotate(-90)" text-anchor="middle">Tp(10<tspan font-size="10" dy="-6">6</tspan><tspan dy="6">K)</tspan></text>
<rect x="123" y="2980" width="72" height="27" fill="#fff" stroke="#000" stroke-width="2.5"/>
<path d="M131 2993h14" stroke="#0000ff" stroke-width="2.5"/>
<text x="155" y="2999" font-size="15">Tp</text>
</svg>
</body></html>
